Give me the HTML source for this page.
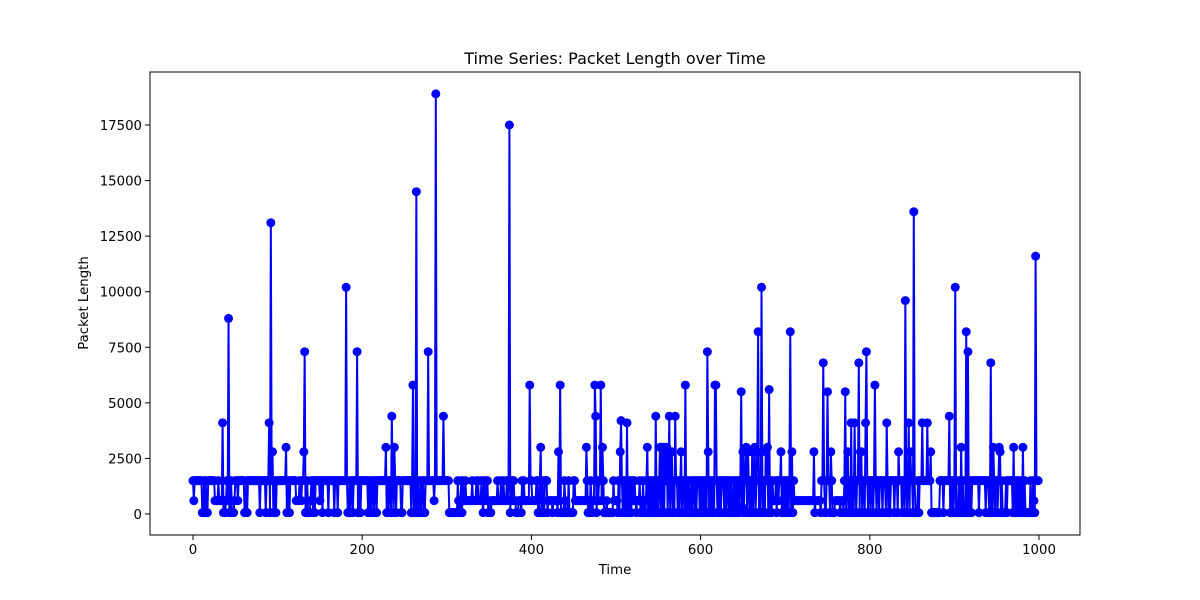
<!DOCTYPE html>
<html><head><meta charset="utf-8"><style>
html,body{margin:0;padding:0;background:#fff;}
svg{display:block;font-family:"DejaVu Sans","Liberation Sans",sans-serif;}
</style></head><body>
<svg id="chart" width="1200" height="600" viewBox="0 0 1200 600" xmlns="http://www.w3.org/2000/svg">
<rect width="1200" height="600" fill="#fff"/>
<text x="615" y="64" text-anchor="middle" font-size="16">Time Series: Packet Length over Time</text>
<text x="615" y="574" text-anchor="middle" font-size="13.3">Time</text>
<text x="88" y="303" text-anchor="middle" font-size="13.3" transform="rotate(-90 88 303)">Packet Length</text>
<g id="plot"></g>
<g id="axes"></g>
</svg>
<script>
const xTicks=[0,200,400,600,800,1000];
const yTicks=[0,2500,5000,7500,10000,12500,15000,17500];
const packetLength=[
1500,600,1500,1500,1500,1500,1500,1500,1500,1500,1500,60,60,1500,60,1500,60,60,1500,1500,
1500,1500,1500,1500,1500,1500,600,600,600,600,1500,600,600,600,600,4100,60,600,60,600,
1500,600,8800,60,60,1500,60,60,60,600,1500,1500,1500,600,1500,1500,1500,1500,1500,1500,
1500,60,60,1500,60,1500,1500,1500,1500,1500,1500,1500,1500,1500,1500,1500,1500,1500,1500,60,
1500,1500,1500,1500,1500,1500,60,1500,1500,1500,4100,60,13100,1500,2800,60,60,1500,60,1500,
1500,1500,1500,1500,1500,1500,1500,1500,1500,1500,3000,60,60,1500,60,1500,1500,1500,1500,1500,
1500,1500,600,600,600,600,1500,600,600,1500,1500,2800,7300,60,60,1500,60,60,60,600,
1500,1500,60,1500,60,1500,1500,1500,1500,1500,600,1500,1500,60,1500,1500,1500,1500,1500,1500,
60,1500,1500,1500,1500,1500,1500,60,1500,1500,1500,60,1500,1500,1500,1500,1500,1500,1500,1500,
1500,10200,1500,60,60,1500,60,1500,1500,60,1500,1500,1500,1500,7300,60,60,1500,60,1500,
1500,1500,1500,1500,1500,1500,1500,60,1500,60,1500,60,1500,1500,60,1500,1500,60,1500,1500,
1500,1500,1500,1500,1500,1500,1500,1500,3000,60,1500,60,1500,1500,60,4400,1500,60,3000,1500,
60,1500,1500,1500,1500,1500,60,60,1500,1500,1500,1500,1500,1500,1500,1500,1500,1500,60,1500,
5800,60,1500,60,14500,60,1500,60,60,1500,60,1500,1500,60,60,1500,1500,1500,7300,1500,
1500,1500,1500,1500,1500,600,1500,18900,1500,1500,1500,1500,1500,1500,1500,1500,4400,1500,1500,1500,
1500,1500,1500,60,60,60,60,60,60,60,60,60,60,1500,600,60,60,1500,60,1500,
600,600,1500,600,600,600,600,600,600,600,1500,600,600,600,600,1500,600,1500,600,600,
600,1500,600,60,1500,600,600,1500,1500,60,600,60,60,600,600,600,600,600,600,600,
1500,600,600,600,1500,600,600,1500,600,600,600,1500,600,1500,17500,60,1500,600,1500,1500,
600,600,60,60,60,600,600,600,60,1500,600,1500,600,600,600,600,600,600,5800,1500,
1500,600,600,600,600,600,1500,1500,60,60,1500,3000,60,1500,600,60,1500,1500,1500,60,
600,600,600,600,600,60,600,600,600,600,600,60,2800,600,5800,60,60,60,60,1500,
600,60,60,60,1500,60,60,60,60,60,1500,1500,600,600,600,600,600,600,600,600,
600,600,600,600,600,3000,1500,60,600,60,1500,600,60,600,600,5800,4400,60,1500,600,
1500,1500,5800,600,3000,1500,60,60,60,600,60,60,60,60,60,60,60,1500,600,600,
600,600,60,1500,60,2800,4200,1500,60,1500,60,1500,60,4100,60,1500,60,1500,60,1500,
1500,600,1500,600,60,600,600,600,1500,60,600,60,1500,60,600,60,1500,3000,60,1500,
60,1500,60,1500,60,1500,60,4400,60,1500,60,1500,3000,60,3000,60,3000,60,3000,1500,
3000,60,1500,4400,60,1500,2800,60,1500,60,4400,1500,1500,60,1500,60,1500,2800,60,1500,
1500,60,5800,60,1500,60,1500,60,60,1500,60,1500,1500,60,1500,60,1500,1500,1500,60,
1500,60,1500,60,1500,60,1500,60,7300,2800,60,1500,60,1500,60,1500,60,5800,5800,1500,
60,1500,60,1500,60,1500,1500,1500,60,1500,60,1500,1500,60,1500,60,1500,60,60,1500,
60,1500,60,1500,60,1500,60,1500,5500,300,2800,60,1500,2800,3000,60,2800,1500,60,1500,
60,2800,60,1500,3000,60,1500,2800,8200,60,1500,60,10200,1500,60,1500,60,2800,1500,3000,
60,5600,60,1500,60,1500,600,600,600,1500,60,1500,600,1500,1500,2800,60,1500,60,1500,
60,1500,60,1500,60,1500,8200,60,2800,60,1500,600,600,600,600,600,600,600,600,600,
600,600,600,600,600,600,600,600,600,600,600,600,600,600,2800,60,600,600,600,600,
600,600,60,1500,1500,6800,1500,60,60,1500,5500,1500,1500,60,2800,1500,60,60,60,600,
600,600,600,600,600,60,600,600,600,60,1500,5500,60,1500,2800,60,1500,60,4100,60,
1500,60,4100,1500,60,1500,1500,6800,60,2800,2800,60,1500,1500,60,4100,7300,1500,60,1500,
1500,60,1500,1500,60,1500,5800,1500,60,1500,1500,60,1500,1500,1500,60,1500,1500,1500,60,
4100,1500,60,1500,60,1500,1500,1500,1500,60,1500,1500,1500,60,2800,1500,1500,1500,60,1500,
1500,60,9600,1500,60,1500,4100,60,2800,1500,1500,60,13600,1500,60,60,60,1500,60,1500,
1500,1500,4100,1500,1500,1500,1500,1500,4100,1500,1500,1500,2800,60,60,60,60,60,60,60,
60,60,60,1500,1500,1500,1500,60,1500,1500,1500,1500,1500,1500,4400,60,1500,60,1500,60,
1500,10200,60,60,60,1500,60,60,3000,60,1500,60,60,60,8200,60,7300,60,60,1500,
60,1500,1500,1500,1500,1500,1500,1500,1500,60,1500,1500,1500,1500,1500,1500,1500,60,1500,1500,
1500,60,60,6800,60,60,3000,1500,60,1500,1500,60,1500,3000,2800,60,1500,60,60,60,
60,1500,60,1500,1500,1500,1500,1500,1500,60,3000,60,60,1500,60,1500,60,1500,60,1500,
60,3000,60,1500,60,60,60,60,60,60,1500,60,60,1500,600,60,11600,1500,1500,1500
];
const timeIndex=packetLength.map((v,i)=>i);

const L=150,R=1080,T=72,B=535;
const x=t=>193+t*(1039-193)/1000;
const y=v=>514-v*(514-125)/17500;
const NS='http://www.w3.org/2000/svg';
const plot=document.getElementById('plot'), axes=document.getElementById('axes');
function mk(tag,attrs,parent){const e=document.createElementNS(NS,tag);for(const k in attrs)e.setAttribute(k,attrs[k]);parent.appendChild(e);return e;}

const pts=timeIndex.map((t,i)=>x(t).toFixed(2)+','+y(packetLength[i]).toFixed(2)).join(' ');
const line=mk('polyline',{points:pts,fill:'none',stroke:'#0000ff','stroke-width':2,'stroke-linejoin':'round'},plot);


timeIndex.forEach((t,i)=>{
  const c=mk('circle',{cx:x(t).toFixed(2),cy:y(packetLength[i]).toFixed(2),r:4.5,fill:'#0000ff'},plot);
  
  
});

const frame=mk('rect',{x:L,y:T,width:R-L,height:B-T,fill:'none',stroke:'#000','stroke-width':1},axes);


xTicks.forEach(t=>{
  const g=mk('g',{},axes);
  
  
  mk('line',{x1:x(t),x2:x(t),y1:B,y2:B+5,stroke:'#000'},g);
  const tx=mk('text',{x:x(t),y:B+19,'text-anchor':'middle','font-size':13.3},g);
  tx.textContent=t;
});
yTicks.forEach(v=>{
  const g=mk('g',{},axes);
  
  
  mk('line',{x1:L-5,x2:L,y1:y(v),y2:y(v),stroke:'#000'},g);
  const tx=mk('text',{x:L-8,y:y(v)+5,'text-anchor':'end','font-size':13.3},g);
  tx.textContent=v;
});
</script>
</body></html>
